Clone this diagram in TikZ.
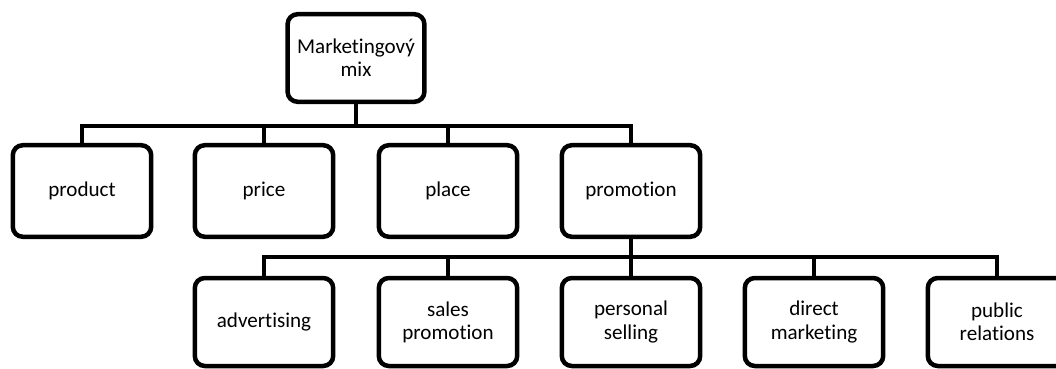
\documentclass[tikz,border=0pt]{standalone}
\usepackage{fontspec}
\setmainfont[Ligatures = NoCommon]{Carlito}
\usepackage{tikz}

\begin{document}
\begin{tikzpicture}[
  box/.style = {draw, line width = 3.2pt, rounded corners = 0.25cm,
    minimum width = 3.46cm, minimum height = 2.29cm, align = center,
    inner sep = 2pt, font = \fontsize{15}{16.5}\selectfont},
  link/.style = {line width = 3.4pt}]
\useasboundingbox (0, 0) rectangle (26.4, 9.2);
\node (root) at (8.9, 7.75) [box, minimum width = 3.42cm, minimum height = 2.19cm] {Marketingový\\mix};
%first level
\node (product) at (2.05, 4.425) [box] {product};
\node (price) at (6.6, 4.425) [box] {price};
\node (place) at (11.2, 4.425) [box] {place};
\node (promotion) at (15.775, 4.425) [box] {promotion};
%second level
\node (advertising) at (6.6, 1.15) [box, minimum height = 2.2cm] {advertising};
\node (sales) at (11.2, 1.15) [box, minimum height = 2.2cm] {sales\\promotion};
\node (selling) at (15.775, 1.15) [box, minimum height = 2.2cm] {personal\\selling};
\node (direct) at (20.35, 1.15) [box, minimum height = 2.2cm] {direct\\marketing};
\node (public) at (24.925, 1.15) [box, minimum height = 2.2cm] {public\\relations};
\coordinate (bus1) at (0, 6.05);
\coordinate (bus2) at (0, 2.775);
\foreach \n in {product, price, place, promotion}
  \draw [link] (root.south) |- (root.south |- bus1) -| (\n.north);
\foreach \n in {advertising, sales, selling, direct, public}
  \draw [link] (promotion.south) |- (promotion.south |- bus2) -| (\n.north);
\end{tikzpicture}
\end{document}
